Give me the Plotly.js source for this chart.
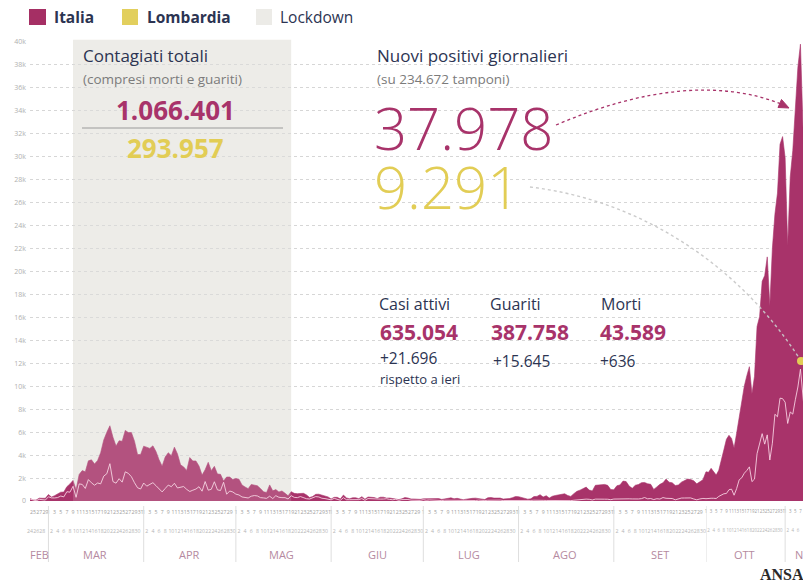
<!DOCTYPE html>
<html><head><meta charset="utf-8">
<script src="https://cdn.plot.ly/plotly-3.0.1.min.js"></script>
<style>html,body{margin:0;padding:0;background:#fff;} #chart{width:803px;height:580px;}</style>
</head><body><div id="chart"></div>
<script>
// ---------- DATA ----------
const startDate = '2020-02-24';
const italia = [
 221, 93, 78, 250, 238, 240,
 566, 342, 466, 587, 769, 778, 1247, 1492, 1797, 977, 2313, 2651, 2547, 3497, 3590, 3233, 3526, 4207, 5322, 5986, 6557, 5560, 4789, 5249, 5210, 6153, 5959, 5974, 5217, 4050, 4053,
 4782, 4668, 4585, 4805, 4316, 3599, 3039, 3836, 4204, 3951, 4694, 4092, 3153, 2972, 2667, 3786, 3493, 3491, 3047, 2256, 2729, 3370, 2646, 3021, 2357, 2324, 1739, 2091, 2086, 1872,
 1965, 1900, 1389, 1221, 1075, 1444, 1401, 1327, 1083, 802, 744, 1402, 888, 992, 789, 875, 675, 451, 813, 665, 642, 652, 669, 531, 300, 397, 584, 593, 516, 416, 355,
 178, 318, 321, 177, 518, 270, 197, 280, 283, 202, 379, 163, 346, 338, 301, 210, 328, 331, 251, 262, 224, 218, 122, 190, 296, 259, 175, 174, 126, 142,
 187, 201, 223, 235, 192, 208, 138, 193, 229, 276, 188, 234, 169, 114, 162, 230, 233, 249, 219, 190, 129, 282, 306, 252, 275, 255, 170, 181, 212, 289, 386,
 379, 295, 239, 159, 190, 384, 402, 552, 347, 463, 259, 412, 481, 523, 574, 629, 479, 403, 642, 845, 947, 1071, 1210, 953, 878, 1367, 1411, 1462, 1444, 1365, 996,
 978, 1326, 1397, 1733, 1695, 1297, 1108, 1370, 1434, 1597, 1616, 1501, 1458, 1008, 1229, 1452, 1585, 1907, 1638, 1587, 1350, 1392, 1640, 1786, 1912, 1869, 1766, 1494, 1648, 1851,
 2548, 2499, 2844, 2578, 2257, 2677, 3678, 4458, 5372, 5724, 5456, 4619, 5901, 7332, 8804, 10010, 10925, 11705, 9338, 10874, 15199, 16079, 19143, 19644, 21273, 17012, 21994, 24991, 26831, 31084, 31758,
 29907, 22253, 28244, 30550, 34505, 37809, 39811, 32616, 25271, 35098, 32961, 37978
];
const lombardia = [
 172, 68, 18, 145, 128, 84,
 369, 270, 266, 300, 431, 361, 808, 769, 1280, 322, 1489, 1445, 1095, 1865, 1587, 1377, 1571, 1493, 2171, 2380, 3251, 1691, 1555, 1942, 1643, 2543, 2409, 2117, 1592, 1154, 1047,
 1565, 1292, 1455, 1598, 1337, 1079, 791, 1089, 1388, 1246, 1544, 1137, 1178, 1262, 1012, 827, 941, 1041, 1246, 855, 1695, 943, 1020, 1678, 970, 916, 1633, 590, 869, 786,
 598, 526, 352, 282, 264, 417, 473, 442, 294, 269, 231, 419, 211, 464, 324, 294, 293, 175, 462, 316, 294, 386, 285, 198, 173, 254, 384, 351, 240, 210, 148,
 101, 233, 166, 64, 290, 111, 112, 129, 148, 121, 208, 59, 213, 190, 173, 123, 164, 169, 197, 141, 108, 144, 61, 122, 140, 130, 74, 73, 50, 55,
 113, 67, 92, 74, 51, 56, 39, 66, 63, 62, 40, 90, 59, 23, 74, 57, 62, 43, 72, 46, 44, 61, 80, 66, 70, 73, 40, 36, 57, 60, 63,
 64, 51, 35, 26, 49, 66, 80, 65, 54, 49, 41, 65, 50, 78, 62, 57, 44, 33, 66, 107, 115, 130, 165, 147, 89, 165, 184, 197, 159, 155, 115,
 170, 186, 168, 209, 225, 189, 179, 163, 177, 207, 305, 192, 216, 124, 200, 169, 300, 236, 245, 215, 104, 207, 256, 261, 278, 268, 175, 101, 178, 225,
 200, 238, 239, 237, 219, 399, 499, 632, 656, 983, 1032, 505, 1080, 1844, 2023, 2419, 2664, 2975, 1687, 1909, 4125, 4916, 5869, 4956, 5762, 3570, 5035, 7558, 7339, 8960, 8919,
 8607, 6758, 7758, 7570, 8822, 9934, 11489, 9308, 6732, 10955, 8776, 9291
];
const monthLabels  = ['FEB','MAR','APR','MAG','GIU','LUG','AGO','SET','OTT','NOV'];
const monthStarts  = ['2020-02-24','2020-03-01','2020-04-01','2020-05-01','2020-06-01','2020-07-01','2020-08-01','2020-09-01','2020-10-01','2020-11-01'];
const monthCenters = ['2020-02-27','2020-03-16','2020-04-16','2020-05-16','2020-06-16','2020-07-16','2020-08-16','2020-09-16','2020-10-16','2020-11-04'];
const lockdownStart = '2020-03-09', lockdownEnd = '2020-05-19';
const splitDate = '2020-10-01';
const range1 = ['2020-02-24', '2020-10-01'];
const range2 = ['2020-10-01', '2020-11-08'];

// ---------- COLOURS ----------
const MAG = '#a8336a', YEL = '#e2cd55', NAVY = '#2c3452', GREY = '#7b7b7b';

// ---------- DERIVED ----------
function dayStr(i){ return new Date(Date.UTC(2020,1,24+i)).toISOString().slice(0,10); }
const dates = italia.map((_,i)=>dayStr(i));
const i1 = [], i2 = [];
dates.forEach((d,i)=>{ if(d<=splitDate) i1.push(i); if(d>=splitDate) i2.push(i); });
const pick = (arr, idx) => idx.map(i=>arr[i]);

const W = 803, H = 580, ML = 30, MR = 0, MT = 42, MB = 79;
const PW = W-ML-MR, PH = H-MT-MB;
const D = 676/PW;
const px = v => (v-ML)/PW;
const py = v => (H-MB-v)/PH;

// day tick rows
function dayTicks(rng, odd){
  const v=[], t=[];
  dates.forEach(d=>{ if(d>=rng[0] && d<rng[1]){ const n=+d.slice(8); if((n%2===1)===odd){ v.push(d); t.push(String(n)); } } });
  return {v,t};
}
const r1a = dayTicks(range1,true), r2a = dayTicks(range1,false);
const r1b = dayTicks(range2,true), r2b = dayTicks(range2,false);

const LOMB_LINE = 'rgba(250,215,230,0.85)';
const traces = [
  {x: pick(dates,i1), y: pick(italia,i1), xaxis:'x', yaxis:'y', type:'scatter', mode:'lines', fill:'tozeroy',
   line:{color:MAG,width:0.6}, fillcolor:MAG, hoverinfo:'skip', showlegend:false},
  {x: pick(dates,i2), y: pick(italia,i2), xaxis:'x2', yaxis:'y', type:'scatter', mode:'lines', fill:'tozeroy',
   line:{color:MAG,width:0.6}, fillcolor:MAG, hoverinfo:'skip', showlegend:false},
  {x: pick(dates,i1), y: pick(lombardia,i1), xaxis:'x', yaxis:'y', type:'scatter', mode:'lines',
   line:{color:LOMB_LINE,width:1}, hoverinfo:'skip', showlegend:false},
  {x: pick(dates,i2), y: pick(lombardia,i2), xaxis:'x2', yaxis:'y', type:'scatter', mode:'lines',
   line:{color:LOMB_LINE,width:1}, hoverinfo:'skip', showlegend:false},
  // empty traces so the second row of day labels gets its axes drawn
  {x: [], y: [], xaxis:'x3', yaxis:'y', type:'scatter', mode:'lines', hoverinfo:'skip', showlegend:false},
  {x: [], y: [], xaxis:'x4', yaxis:'y', type:'scatter', mode:'lines', hoverinfo:'skip', showlegend:false}
];

const dayFont1a = {family:'Open Sans', size:5.2, color:'#9c9c9c'};
const dayFont2a = {family:'Open Sans', size:5.2, color:'#b4b4b4'};
const dayFont1b = {family:'Open Sans', size:4.4, color:'#9c9c9c'};
const dayFont2b = {family:'Open Sans', size:4.4, color:'#b4b4b4'};
const baseX = {type:'date', showgrid:false, zeroline:false, showline:false, ticks:'', tickmode:'array',
  tickangle:0, fixedrange:true, ticklabeloverflow:'allow', automargin:false};

const shapes = [
  {type:'rect', xref:'x', yref:'paper', x0:lockdownStart, x1:lockdownEnd, y0:0, y1:1.005, fillcolor:'#edece8', line:{width:0}, layer:'below'},
  {type:'rect', xref:'x', yref:'paper', x0:lockdownStart, x1:lockdownEnd, y0:0, y1:1.005, fillcolor:'rgba(237,236,232,0.17)', line:{width:0}, layer:'above'},
  // legend squares
  {type:'rect', xref:'paper', yref:'paper', x0:px(29), x1:px(46), y0:py(25), y1:py(9), fillcolor:'#a52f64', line:{width:0}},
  {type:'rect', xref:'paper', yref:'paper', x0:px(122), x1:px(138), y0:py(25), y1:py(9), fillcolor:'#e2cf5d', line:{width:0}},
  {type:'rect', xref:'paper', yref:'paper', x0:px(256), x1:px(272), y0:py(25), y1:py(9), fillcolor:'#ecebe7', line:{width:0}},
  // divider under total
  {type:'line', xref:'paper', yref:'paper', x0:px(82), x1:px(283), y0:py(128), y1:py(128), line:{color:'#9a9a9a', width:1}},
  // magenta arrow
  {type:'path', xref:'paper', yref:'paper', layer:'above',
   path:`M ${px(556)},${py(125)} Q ${px(690)},${py(68)} ${px(781)},${py(104)}`, line:{color:MAG, width:1.3, dash:'dot'}},
  {type:'path', xref:'paper', yref:'paper', layer:'above',
   path:`M ${px(789)},${py(108)} L ${px(778)},${py(107.5)} L ${px(781.5)},${py(99.5)} Z`, fillcolor:MAG, line:{color:MAG,width:1}},
  // grey leader to Lombardia
  {type:'path', xref:'paper', yref:'paper', layer:'above',
   path:`M ${px(530)},${py(187)} C ${px(640)},${py(200)} ${px(740)},${py(265)} ${px(801)},${py(361)}`, line:{color:'rgba(200,200,200,0.95)', width:1.4, dash:'dot'}},
  {type:'circle', xref:'paper', yref:'paper', layer:'above', x0:px(797), x1:px(805), y0:py(365), y1:py(357), fillcolor:YEL, line:{width:0}}
];
// month separators
monthStarts.slice(1).forEach(d=>{
  shapes.push({type:'line', xref: d>=splitDate ? 'x2':'x', yref:'paper', x0:d, x1:d, y0:py(506), y1:py(562), line:{color:'#dedede', width:1}});
});

function ann(text, x, y, size, color, opts={}){
  return Object.assign({text, xref:'paper', yref:'paper', x:px(x), y:py(y), xanchor:'left', yanchor:'middle', showarrow:false,
    font:{family:'Open Sans', size, color, weight: opts.weight||400}}, opts.extra||{});
}
const annotations = [
  ann('Italia', 52, 17, 15.5, NAVY, {weight:700}),
  ann('Lombardia', 145, 17, 15.5, NAVY, {weight:700}),
  ann('Lockdown', 278, 17, 15.5, NAVY),
  ann('Contagiati totali', 81, 55, 17, NAVY),
  ann('(compresi morti e guariti)', 81, 79, 13.5, GREY),
  ann('1.066.401', 175, 110, 26, MAG, {weight:700, extra:{xanchor:'center'}}),
  ann('293.957', 175, 148, 26, YEL, {weight:700, extra:{xanchor:'center'}}),
  ann('Nuovi positivi giornalieri', 375, 55, 17, NAVY),
  ann('(su 234.672 tamponi)', 375, 79, 13.5, GREY),
  ann('37.978', 372, 127, 58, MAG, {weight:300}),
  ann('9.291', 372, 186, 58, YEL, {weight:300}),
  ann('Casi attivi', 377, 304, 16, NAVY),
  ann('Guariti', 488, 304, 16, NAVY),
  ann('Morti', 599, 304, 16, NAVY),
  ann('635.054', 378, 332, 21, MAG, {weight:700}),
  ann('387.758', 489, 332, 21, MAG, {weight:700}),
  ann('43.589', 598, 332, 21, MAG, {weight:700}),
  ann('+21.696', 378, 358, 15.5, NAVY),
  ann('rispetto a ieri', 378, 379, 13, NAVY),
  ann('+15.645', 491, 361, 15.5, NAVY),
  ann('+636', 598, 361, 15.5, NAVY),
  {text:'<b>ANSA</b>', xref:'paper', yref:'paper', x:px(758), y:py(574), xanchor:'left', yanchor:'middle', showarrow:false,
   font:{family:'Liberation Serif', size:16, color:'#2a2a2a'}}
];
monthLabels.forEach((m,i)=>{
  const d = monthCenters[i];
  annotations.push({text:m, xref: d>=splitDate ? 'x2':'x', yref:'paper', x:d, y:py(554), xanchor: m==='NOV'?'left':'center', yanchor:'middle',
    showarrow:false, font:{family:'Open Sans', size:11, color:'#b58aa0'}});
});

const layout = {
  width:W, height:H, margin:{l:ML, r:MR, t:MT, b:MB, pad:0},
  paper_bgcolor:'#ffffff', plot_bgcolor:'rgba(0,0,0,0)', showlegend:false,
  xaxis:  Object.assign({}, baseX, {domain:[0,D], range:range1, anchor:'y', tickvals:r1a.v, ticktext:r1a.t, tickfont:dayFont1a, ticklabelstandoff:7}),
  xaxis2: Object.assign({}, baseX, {domain:[D,1], range:range2, anchor:'y', tickvals:r1b.v, ticktext:r1b.t, tickfont:dayFont1b, ticklabelstandoff:7}),
  xaxis3: Object.assign({}, baseX, {overlaying:'x', range:range1, anchor:'y', side:'bottom', tickvals:r2a.v, ticktext:r2a.t, tickfont:dayFont2a, ticklabelstandoff:26}),
  xaxis4: Object.assign({}, baseX, {overlaying:'x2', range:range2, anchor:'y', side:'bottom', tickvals:r2b.v, ticktext:r2b.t, tickfont:dayFont2b, ticklabelstandoff:26}),
  yaxis: {range:[0,40000], tickmode:'linear', tick0:0, dtick:2000, tickformat:'~s', showgrid:true, gridcolor:'#d6d6d6', griddash:'dot',
    gridwidth:1, zeroline:false, showline:false, ticks:'', tickfont:{family:'Open Sans', size:7, color:'#b0b0b0'}, fixedrange:true,
    anchor:'x', ticklabelstandoff:3, automargin:false},
  shapes, annotations
};
Plotly.newPlot('chart', traces, layout, {staticPlot:true, displayModeBar:false});
</script></body></html>
